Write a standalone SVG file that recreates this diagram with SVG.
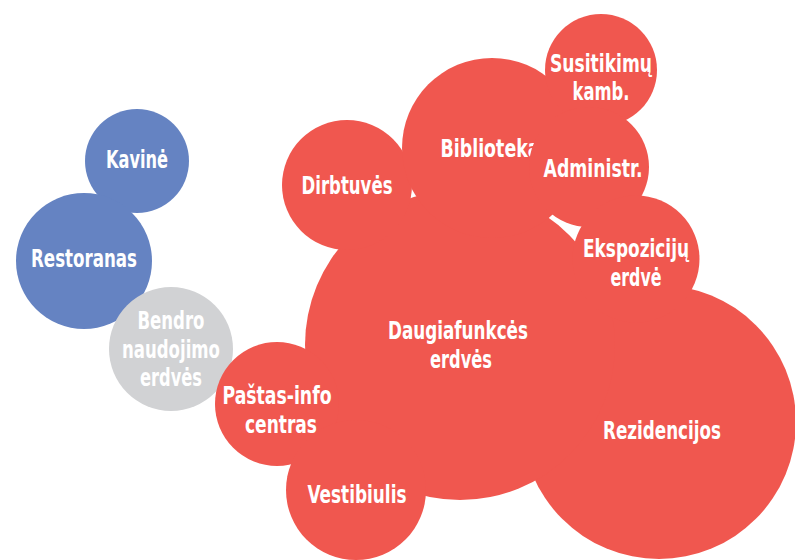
<svg xmlns="http://www.w3.org/2000/svg" width="795" height="560" viewBox="0 0 795 560">
<style>
.red{fill:#F0574F}
.blue{fill:#6583C2}
.grey{fill:#D1D2D4}
text{font-family:"DejaVu Sans Condensed","DejaVu Sans",sans-serif;font-weight:bold;font-size:25px;fill:#fff;text-anchor:middle}
</style>
<rect width="795" height="560" fill="#fff"/>
<g id="kavine"><circle class="blue" cx="137" cy="161" r="52"/><text x="137" y="168" textLength="62" lengthAdjust="spacingAndGlyphs">Kavinė</text></g>
<g id="restoranas"><circle class="blue" cx="84" cy="261" r="68"/><text x="84" y="267" textLength="106" lengthAdjust="spacingAndGlyphs">Restoranas</text></g>
<g id="bendro"><circle class="grey" cx="171" cy="349" r="62"/><text x="171" y="329" textLength="67" lengthAdjust="spacingAndGlyphs">Bendro</text><text x="171" y="358" textLength="98" lengthAdjust="spacingAndGlyphs">naudojimo</text><text x="171" y="386" textLength="62" lengthAdjust="spacingAndGlyphs">erdvės</text></g>
<g id="rezidencijos"><circle class="red" cx="659" cy="422" r="137"/><text x="662" y="439" textLength="118" lengthAdjust="spacingAndGlyphs">Rezidencijos</text></g>
<g id="daugiafunkces"><circle class="red" cx="460" cy="345" r="155"/><text x="458" y="339" textLength="140" lengthAdjust="spacingAndGlyphs">Daugiafunkcės</text><text x="461" y="368" textLength="62" lengthAdjust="spacingAndGlyphs">erdvės</text></g>
<g id="pastas"><circle class="red" cx="277" cy="404" r="62"/><text x="277" y="404" textLength="109" lengthAdjust="spacingAndGlyphs">Paštas-info</text><text x="281" y="433" textLength="72" lengthAdjust="spacingAndGlyphs">centras</text></g>
<g id="vestibiulis"><circle class="red" cx="356" cy="490" r="70"/><text x="357" y="503" textLength="99" lengthAdjust="spacingAndGlyphs">Vestibiulis</text></g>
<g id="dirbtuves"><circle class="red" cx="347" cy="185" r="65"/><text x="347" y="194" textLength="91" lengthAdjust="spacingAndGlyphs">Dirbtuvės</text></g>
<g id="biblioteka"><circle class="red" cx="492" cy="148" r="90"/><text x="490" y="157" textLength="99" lengthAdjust="spacingAndGlyphs">Biblioteka</text></g>
<g id="susitikimu"><circle class="red" cx="601" cy="70" r="56"/><text x="601" y="72" textLength="102" lengthAdjust="spacingAndGlyphs">Susitikimų</text><text x="601" y="100" textLength="57" lengthAdjust="spacingAndGlyphs">kamb.</text></g>
<g id="administr"><circle class="red" cx="589" cy="167" r="60"/><text x="593" y="177" textLength="99" lengthAdjust="spacingAndGlyphs">Administr.</text></g>
<g id="ekspozicija"><circle class="red" cx="636" cy="259" r="63.5"/><text x="636" y="257" textLength="106" lengthAdjust="spacingAndGlyphs">Ekspozicijų</text><text x="636" y="286" textLength="51" lengthAdjust="spacingAndGlyphs">erdvė</text></g>
<g id="connectors"></g>
</svg>
